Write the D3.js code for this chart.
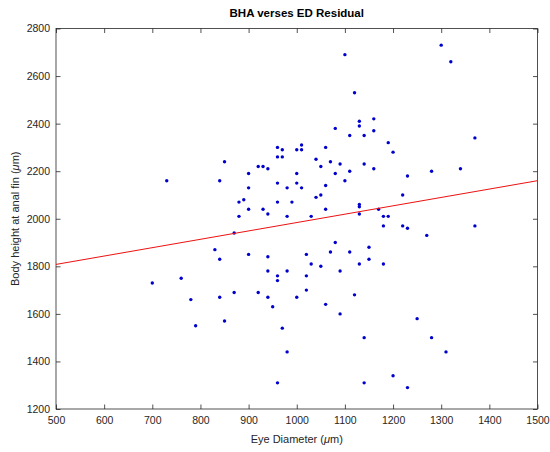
<!DOCTYPE html>
<html>
<head>
<meta charset="utf-8">
<script src="https://cdn.jsdelivr.net/npm/d3@7"></script>
<style>
  html, body { margin: 0; padding: 0; background: #fff; }
  svg { display: block; font-family: "Liberation Sans", Arial, Helvetica, sans-serif; }
</style>
</head>
<body>
<svg id="chart" width="550" height="452"></svg>
<script>
// ---- data ----
const eyeDiameter = [700,730,760,780,790,830,840,840,840,850,850,870,870,880,880,890,900,900,900,900,
  920,920,930,930,940,940,940,940,940,950,960,960,960,960,960,960,960,970,970,970,
  980,980,980,980,990,1000,1000,1000,1000,1010,1010,1010,1020,1020,1020,1030,1030,1040,1040,1050,
  1050,1050,1060,1060,1060,1060,1070,1070,1080,1080,1080,1090,1090,1090,1100,1100,1110,1110,1110,1120,
  1120,1130,1130,1130,1130,1130,1130,1140,1140,1140,1140,1150,1150,1160,1160,1160,1170,1180,1180,1180,
  1190,1190,1200,1200,1220,1220,1230,1230,1230,1250,1270,1280,1280,1300,1310,1320,1340,1370,1370];
const bodyHeight = [1730,2160,1750,1660,1550,1870,2160,1830,1670,2240,1570,1940,1690,2070,2010,2080,2190,2130,2040,1850,
  2220,1690,2220,2040,2210,2020,1840,1780,1670,1630,2300,2260,2150,2070,1760,1740,1310,2290,2260,1540,
  2130,2010,1780,1440,2070,2290,2190,2150,1670,2310,2290,2130,1850,1760,1700,2010,1810,2250,2090,2220,
  2100,1800,2300,2140,2040,1640,2240,1860,2380,2190,1900,2230,1780,1600,2690,2160,2350,2200,1860,2530,
  1680,2410,2390,2060,2050,2020,1810,2350,2230,1500,1310,1880,1830,2420,2370,2210,2040,2010,1970,1810,
  2320,2010,2280,1340,2100,1970,2180,1960,1290,1580,1930,2200,1500,2730,1440,2660,2210,2340,1970];
const fitLineX = [500, 1500];
const fitLineY = [1808, 2160];
const xTicks = [500,600,700,800,900,1000,1100,1200,1300,1400,1500];
const yTicks = [1200,1400,1600,1800,2000,2200,2400,2600,2800];
const titleText = "BHA verses ED Residual";

// ---- layout ----
const mLeft = 56, mRight = 537.5, mTop = 28.5, mBottom = 409;
const axisColor = "#262626";
const svg = d3.select("#chart");

const x = d3.scaleLinear().domain([500, 1500]).range([mLeft, mRight]);
const y = d3.scaleLinear().domain([1200, 2800]).range([mBottom, mTop]);
const tickLen = 4.5;

// frame
svg.append("rect")
  .attr("x", mLeft).attr("y", mTop)
  .attr("width", mRight - mLeft).attr("height", mBottom - mTop)
  .attr("fill", "none").attr("stroke", axisColor).attr("stroke-width", 0.8);

// axes (ticks inward on all four sides)
const xAxisB = svg.append("g").attr("transform", `translate(0,${mBottom})`)
  .call(d3.axisBottom(x).tickValues(xTicks).tickFormat(d3.format("d")).tickSizeInner(-tickLen).tickSizeOuter(0).tickPadding(8));
const xAxisT = svg.append("g").attr("transform", `translate(0,${mTop})`)
  .call(d3.axisTop(x).tickValues(xTicks).tickFormat("").tickSizeInner(-tickLen).tickSizeOuter(0));
const yAxisL = svg.append("g").attr("transform", `translate(${mLeft},0)`)
  .call(d3.axisLeft(y).tickValues(yTicks).tickFormat(d3.format("d")).tickSizeInner(-tickLen).tickSizeOuter(0).tickPadding(6));
const yAxisR = svg.append("g").attr("transform", `translate(${mRight},0)`)
  .call(d3.axisRight(y).tickValues(yTicks).tickFormat("").tickSizeInner(-tickLen).tickSizeOuter(0));

[xAxisB, xAxisT, yAxisL, yAxisR].forEach(g => {
  g.select(".domain").remove();
  g.selectAll(".tick line").attr("stroke", axisColor).attr("stroke-width", 0.8);
  g.selectAll(".tick text").attr("fill", axisColor)
    .style("font-family", "'Liberation Sans', Arial, Helvetica, sans-serif")
    .style("font-size", "10.5px");
});

// points
svg.append("g").selectAll("circle")
  .data(eyeDiameter.map((d, i) => [d, bodyHeight[i]]))
  .join("circle")
  .attr("cx", d => x(d[0]))
  .attr("cy", d => y(d[1]))
  .attr("r", 1.7)
  .attr("fill", "#0000cc");

// fit line
svg.append("path")
  .datum(fitLineX.map((d, i) => [d, fitLineY[i]]))
  .attr("d", d3.line().x(d => x(d[0])).y(d => y(d[1])))
  .attr("fill", "none")
  .attr("stroke", "#ee1111")
  .attr("stroke-width", 1);

// title
svg.append("text")
  .attr("x", (mLeft + mRight) / 2).attr("y", 17)
  .attr("text-anchor", "middle")
  .attr("fill", "#000")
  .style("font-size", "11.5px").style("font-weight", "bold")
  .text(titleText);

// x label
const xl = svg.append("text")
  .attr("x", (mLeft + mRight) / 2).attr("y", 443)
  .attr("text-anchor", "middle")
  .attr("fill", axisColor)
  .style("font-size", "11px");
xl.append("tspan").text("Eye Diameter (");
xl.append("tspan").style("font-style", "italic").text("\u03bc");
xl.append("tspan").text("m)");

// y label
const yl = svg.append("text")
  .attr("transform", `translate(19,${(mTop + mBottom) / 2}) rotate(-90)`)
  .attr("text-anchor", "middle")
  .attr("fill", axisColor)
  .style("font-size", "11px");
yl.append("tspan").text("Body height at anal fin (");
yl.append("tspan").style("font-style", "italic").text("\u03bc");
yl.append("tspan").text("m)");
</script>
</body>
</html>
